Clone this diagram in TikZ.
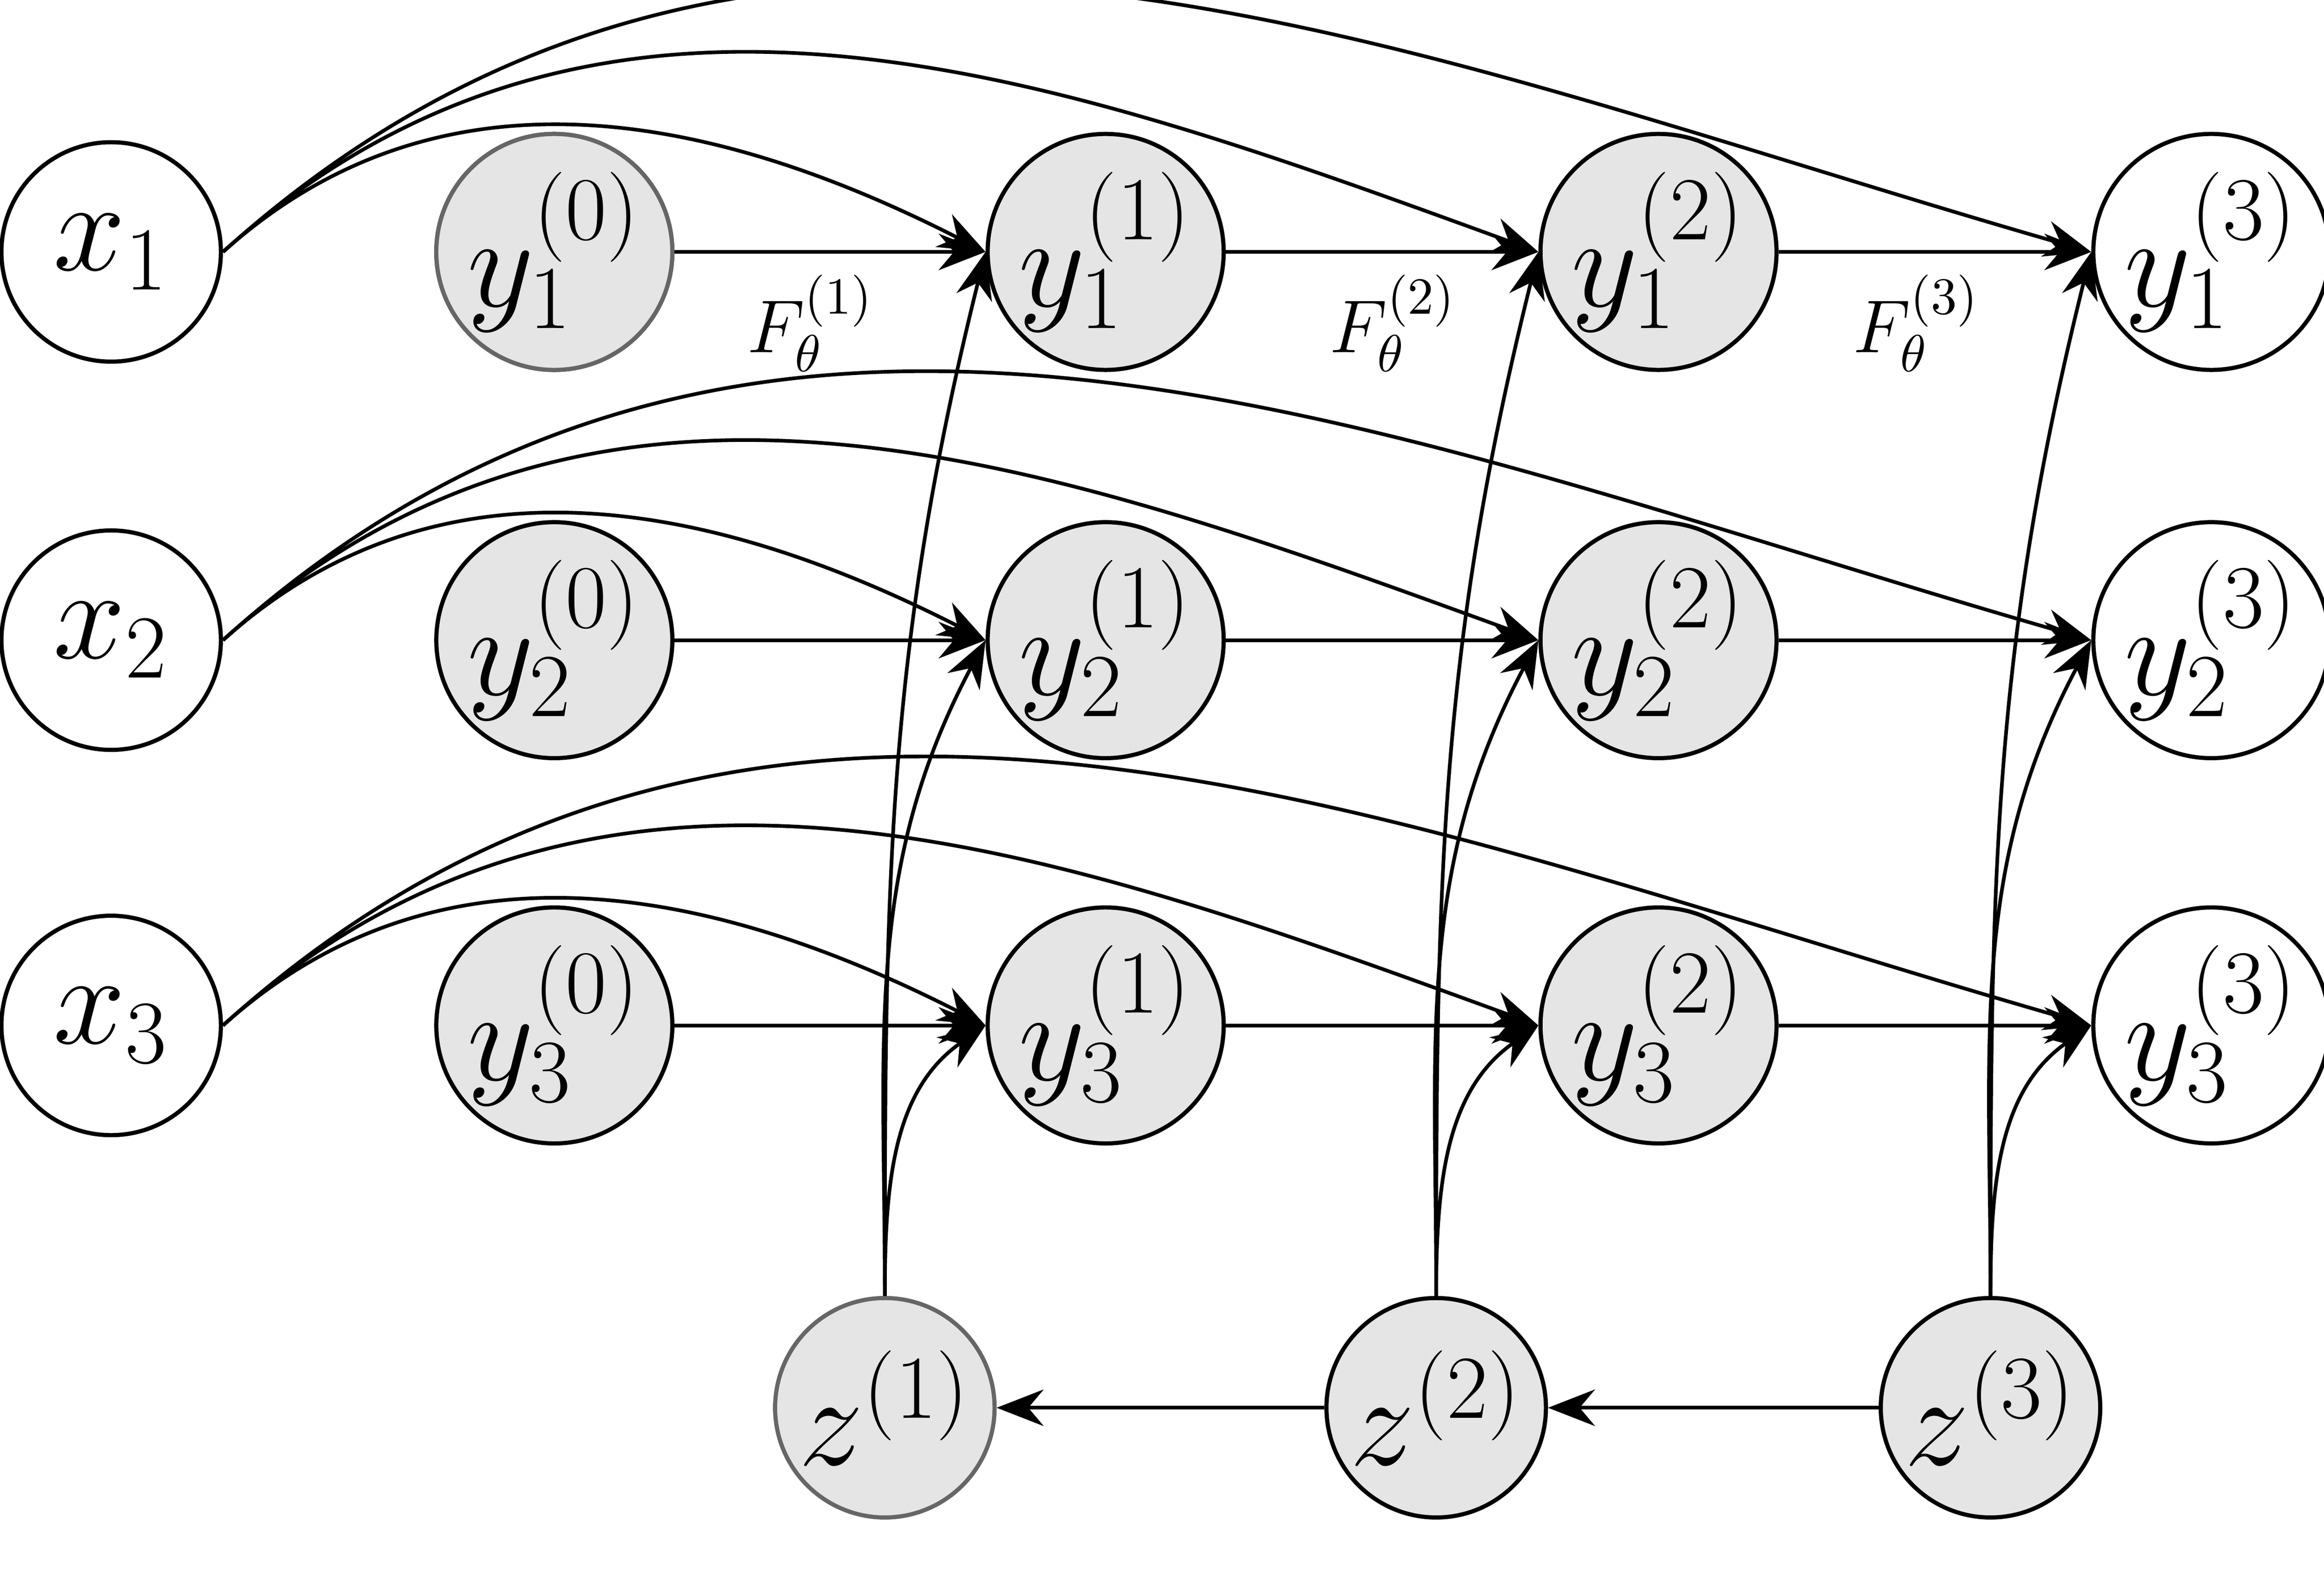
\documentclass[tikz,border=0pt]{standalone}
\usetikzlibrary{arrows.meta}
\begin{document}
\begin{tikzpicture}[x=0.01cm,y=-0.01cm,
  var/.style={circle,draw,line width=0.8pt,minimum size=1.48cm,inner sep=0pt,font=\fontsize{26}{30}\selectfont},
  obs/.style={var,fill=white},
  lat/.style={var,fill=black!10},
  latl/.style={lat,draw=black!60},
  arr/.style={line width=0.7pt,-{Stealth[length=9pt,width=7pt]}},
  flab/.style={font=\fontsize{14}{16}\selectfont}]
\useasboundingbox (0,0) rectangle (1568,1066);
\foreach \i/\r in {1/170,2/432,3/692}{
  \node[obs] (x\i) at (75,\r) {$x_{\i}$};
  \node[lat] (y\i0) at (374,\r) {$y_{\i}^{(0)}$};
  \node[lat] (y\i1) at (746,\r) {$y_{\i}^{(1)}$};
  \node[lat] (y\i2) at (1119,\r) {$y_{\i}^{(2)}$};
  \node[obs] (y\i3) at (1492,\r) {$y_{\i}^{(3)}$};
}
\node[latl] at (374,170) {$y_{1}^{(0)}$};
\node[latl] (z1) at (597,950) {$z^{(1)}$};
\node[lat] (z2) at (969,950) {$z^{(2)}$};
\node[lat] (z3) at (1343,950) {$z^{(3)}$};
\node[flab] (f1) at (547,218) {$F_\theta^{(1)}$};
\node[flab] (f2) at (940,218) {$F_\theta^{(2)}$};
\node[flab] (f3) at (1293,218) {$F_\theta^{(3)}$};
\foreach \i in {1,2,3}{
  \draw[arr] (y\i0) -- (y\i1);
  \draw[arr] (y\i1) -- (y\i2);
  \draw[arr] (y\i2) -- (y\i3);
  \draw[arr] (x\i.east) to[out=42,in=153] (y\i1.west);
  \draw[arr] (x\i.east) to[out=42,in=160] (y\i2.west);
  \draw[arr] (x\i.east) to[out=42,in=164] (y\i3.west);
}
\foreach \k in {1,2,3}{
  \draw[arr] (z\k.north) to[out=90,in=-104] (y1\k.west);
  \draw[arr] (z\k.north) to[out=90,in=-118] (y2\k.west);
  \draw[arr] (z\k.north) to[out=90,in=-145] (y3\k.west);
}
\draw[arr] (z3) -- (z2);
\draw[arr] (z2) -- (z1);
\end{tikzpicture}
\end{document}
